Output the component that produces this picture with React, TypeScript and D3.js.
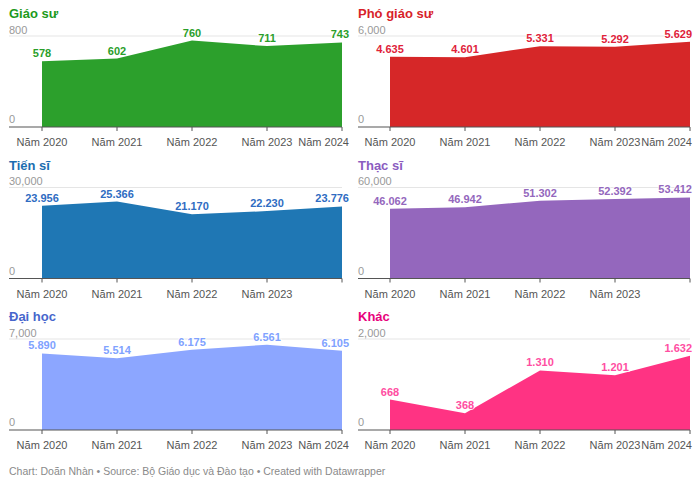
import React from "react";
import * as d3 from "d3";

const years = ["Năm 2020", "Năm 2021", "Năm 2022", "Năm 2023", "Năm 2024"];

const giaoSu = [578, 602, 760, 711, 743];
const phoGiaoSu = [4635, 4601, 5331, 5292, 5629];
const tienSi = [23956, 25366, 21170, 22230, 23776];
const thacSi = [46062, 46942, 51302, 52392, 53412];
const daiHoc = [5890, 5514, 6175, 6561, 6105];
const khac = [668, 368, 1310, 1201, 1632];

const panelTitles = ["Giáo sư", "Phó giáo sư", "Tiến sĩ", "Thạc sĩ", "Đại học", "Khác"];
const panelMax = [800, 6000, 30000, 60000, 7000, 2000];
const panelValues = [giaoSu, phoGiaoSu, tienSi, thacSi, daiHoc, khac];
const showLastYear = [true, true, false, false, true, true];

const fillColors = ["#2ca02c", "#d62728", "#1f77b4", "#9467bd", "#8ca6ff", "#ff3383"];
const titleColors = ["#1c9a1c", "#d81f2a", "#1b6db0", "#8b5cbf", "#4766cc", "#e8007c"];
const labelColors = ["#2a9e2a", "#e0223a", "#2f6cc2", "#9467bd", "#80a2ff", "#ff4ea2"];

const footer = "Chart: Doãn Nhàn • Source: Bộ Giáo dục và Đào tạo • Created with Datawrapper";

const FONT = "'Liberation Sans', Arial, Helvetica, sans-serif";

const fmtAxis = d3.format(",");
const fmtLabel = (v: number) => d3.format(",")(v).replace(/,/g, ".");

function Panel({ i }: { i: number }) {
  const col = i % 2;
  const row = Math.floor(i / 2);
  const x0 = col === 0 ? 9 : 358;
  const plotL = col === 0 ? 42 : 390;
  const plotR = col === 0 ? 342 : 690;
  const clampR = col === 0 ? 349 : 692;
  const gridY = 36 + row * 151.5;
  const baseY = gridY + 91;
  const vals = panelValues[i];
  const x = d3.scalePoint<string>().domain(years).range([plotL, plotR]);
  const y = d3.scaleLinear().domain([0, panelMax[i]]).range([baseY, gridY]);
  const area = d3
    .area<number>()
    .x((_, k) => x(years[k]) as number)
    .y0(baseY)
    .y1((d) => y(d));
  return (
    <g>
      <text x={x0} y={gridY - 18} fill={titleColors[i]} fontSize={13} fontWeight="bold" fontFamily={FONT}>
        {panelTitles[i]}
      </text>
      <line x1={x0} x2={plotR} y1={gridY} y2={gridY} stroke="#e5e5e5" strokeWidth={1} />
      <text x={x0} y={gridY - 2.5} fill="#999" fontSize={11} fontFamily={FONT}>
        {fmtAxis(panelMax[i])}
      </text>
      <text x={x0} y={baseY - 4} fill="#999" fontSize={11} fontFamily={FONT}>
        0
      </text>
      <path d={area(vals) || ""} fill={fillColors[i]} />
      <line x1={x0} x2={plotR} y1={baseY} y2={baseY} stroke="#555" strokeWidth={1.2} />
      {years.map((yr) => (
        <line key={yr} x1={x(yr)} x2={x(yr)} y1={baseY} y2={baseY + 4} stroke="#555" strokeWidth={1} />
      ))}
      {years.map((yr, k) => {
        if (k === 4 && !showLastYear[i]) return null;
        const last = k === 4;
        return (
          <text
            key={yr}
            x={last ? clampR : (x(yr) as number)}
            y={baseY + 19}
            textAnchor={last ? "end" : "middle"}
            fill="#555"
            fontSize={11}
            fontFamily={FONT}
          >
            {yr}
          </text>
        );
      })}
      {vals.map((v, k) => {
        const last = k === 4;
        return (
          <text
            key={k}
            x={last ? clampR : (x(years[k]) as number)}
            y={y(v) - 4}
            textAnchor={last ? "end" : "middle"}
            fill={labelColors[i]}
            fontSize={11}
            fontWeight="bold"
            fontFamily={FONT}
            stroke="#fff"
            strokeWidth={2}
            strokeOpacity={0.8}
            paintOrder="stroke"
          >
            {fmtLabel(v)}
          </text>
        );
      })}
    </g>
  );
}

export default function App() {
  return (
    <svg
      width={700}
      height={486}
      style={{ position: "absolute", left: 0, top: 0, background: "#fff" }}
    >
      {panelTitles.map((_, i) => (
        <Panel key={i} i={i} />
      ))}
      <text x={9} y={475} fill="#8a8a8a" fontSize={10.5} fontFamily={FONT}>
        {footer}
      </text>
    </svg>
  );
}
